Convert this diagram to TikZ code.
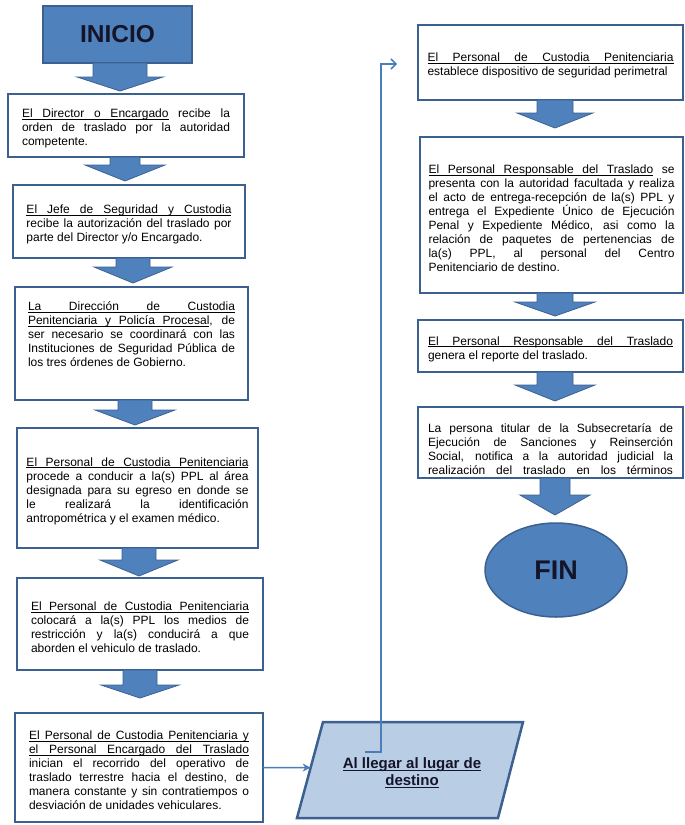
\documentclass[tikz,border=0pt]{standalone}
\usepackage{fontspec}
\setmainfont{Liberation Sans}
\usetikzlibrary{shapes.geometric,arrows.meta,calc}
\definecolor{boxline}{HTML}{3C6190}
\definecolor{fillblue}{HTML}{4F81BD}
\definecolor{lightblue}{HTML}{B9CDE5}
\definecolor{connblue}{HTML}{4A7EBB}
\definecolor{darktext}{HTML}{15152A}
\tolerance=10000 \hbadness=10000 \hyphenpenalty=10000 \exhyphenpenalty=10000
% underlined word and underlined stretchable space
\newcommand{\uw}[1]{\setbox0\hbox{#1}\rlap{\vrule height -0.11em depth 0.185em width \wd0}\box0\relax}
\newcommand{\us}{\leaders\hrule height -0.11em depth 0.185em\hskip\fontdimen2\font plus \fontdimen3\font minus \fontdimen4\font\relax}
\def\ulp#1{\ulpi#1 \ulpstop}
\def\ulpi#1 #2\ulpstop{\uw{#1}\ifx\relax#2\relax\else\us\ulpi#2\ulpstop\fi}
\newcommand{\boxshift}{\par\vspace*{-6pt}}
\newcommand{\dnarrow}[6]{\filldraw[blockarr] ({#1-#5},#2) -- ({#1+#5},#2) -- ({#1+#5},#3) -- ({#1+#6},#3) -- (#1,#4) -- ({#1-#6},#3) -- ({#1-#5},#3) -- cycle;}
\begin{document}
\begin{tikzpicture}[x=1pt,y=-1pt,
  procbox/.style={draw=boxline, line width=2.5pt, fill=white, rectangle, anchor=north west,
    outer sep=0pt, inner xsep=2pt, inner ysep=2pt, align=justify,
    font=\fontsize{12}{14}\selectfont, execute at end node=\boxshift},
  terminal/.style={fill=fillblue, draw=boxline, text=darktext, outer sep=0pt, inner sep=0pt},
  blockarr/.style={fill=fillblue, draw=boxline, line width=0.8pt, line join=miter},
  conn/.style={draw=connblue, line width=1.5pt}]
\useasboundingbox (0,0) rectangle (685,825);

% left column
\node[terminal, rectangle, line width=2.5pt, anchor=north west, minimum width=149pt, minimum height=57pt,
  font=\fontsize{24.5}{28}\selectfont\bfseries] (inicio) at (43,6) {INICIO};

\node[procbox, minimum width=236pt, minimum height=63pt, text width=208pt] (b1) at (8,94)
 {\ulp{El Director o Encargado} recibe la\linebreak
  orden de traslado por la autoridad\linebreak
  competente.};

\node[procbox, minimum width=232pt, minimum height=73pt, text width=205pt] (b2) at (13,185)
 {\ulp{El Jefe de Seguridad y Custodia}\linebreak
  recibe la autorización del traslado por\linebreak
  parte del Director y/o Encargado.};

\node[procbox, minimum width=233pt, minimum height=113pt, text width=207pt] (b3) at (15,287)
 {\ulp{La Dirección de Custodia}\linebreak
  \ulp{Penitenciaria y Policía Procesal}, de\linebreak
  ser necesario se coordinará con las\linebreak
  Instituciones de Seguridad Pública de\linebreak
  los tres órdenes de Gobierno.\par\vspace*{24pt}};

\node[procbox, minimum width=241pt, minimum height=120pt, text width=222pt] (b4) at (17,428)
 {\ulp{El Personal de Custodia Penitenciaria}\linebreak
  procede a conducir a la(s) PPL al área\linebreak
  designada para su egreso en donde se\linebreak
  le realizará la identificación\linebreak
  antropométrica y el examen médico.};

\node[procbox, minimum width=246pt, minimum height=92pt, text width=218pt] (b5) at (17,578)
 {\ulp{El Personal de Custodia Penitenciaria}\linebreak
  colocará a la(s) PPL los medios de\linebreak
  restricción y la(s) conducirá a que\linebreak
  aborden el vehiculo de traslado.};

\node[procbox, minimum width=248pt, minimum height=109pt, text width=220pt] (b6) at (15,713)
 {\ulp{El Personal de Custodia Penitenciaria y}\linebreak
  \ulp{el Personal Encargado del Traslado}\linebreak
  inician el recorrido del operativo de\linebreak
  traslado terrestre hacia el destino, de\linebreak
  manera constante y sin contratiempos o\linebreak
  desviación de unidades vehiculares.};

% right column
\node[procbox, minimum width=265pt, minimum height=75pt, text width=246pt] (r1) at (418,25)
 {\ulp{El Personal de Custodia Penitenciaria}\linebreak
  establece dispositivo de seguridad perimetral};

\node[procbox, minimum width=263pt, minimum height=156pt, text width=246pt] (r2) at (420,137)
 {\ulp{El Personal Responsable del Traslado} se\linebreak
  presenta con la autoridad facultada y realiza\linebreak
  el acto de entrega-recepción de la(s) PPL y\linebreak
  entrega el Expediente Único de Ejecución\linebreak
  Penal y Expediente Médico, asi como la\linebreak
  relación de paquetes de pertenencias de\linebreak
  la(s) PPL, al personal del Centro\linebreak
  Penitenciario de destino.};

\node[procbox, minimum width=265pt, minimum height=52pt, text width=245pt] (r3) at (418,320)
 {\ulp{El Personal Responsable del Traslado}\linebreak
  genera el reporte del traslado.};

\node[procbox, minimum width=265pt, minimum height=71pt, text width=245pt] (r4) at (418,407)
 {La persona titular de la Subsecretaría de\linebreak
  Ejecución de Sanciones y Reinserción\linebreak
  Social, notifica a la autoridad judicial la\linebreak
  \hbox to\hsize{realización\hfill del\hfill traslado\hfill en\hfill los\hfill términos}\par\vspace*{-7pt}};

\node[terminal, ellipse, line width=1.5pt, minimum width=142pt, minimum height=94pt,
  font=\fontsize{27}{30}\selectfont\bfseries] (fin) at (556,570) {FIN};

% destination parallelogram
\coordinate (pTL) at (323,722);
\coordinate (pTR) at (523,722);
\coordinate (pBR) at (498,818);
\coordinate (pBL) at (297,818);
\filldraw[fill=lightblue, draw=boxline, line width=2.5pt, line join=miter] (pTL) -- (pTR) -- (pBR) -- (pBL) -- cycle;
\node[align=center, text=darktext, inner sep=0pt, font=\fontsize{15}{17}\selectfont\bfseries] (dest) at (412,773)
 {\ulp{Al llegar al lugar de}\\ \ulp{destino}};
\coordinate (destin) at ($(pTL)!0.475!(pBL)$);

% block arrows
\dnarrow{120}{63}{77}{91}{27}{43}
\dnarrow{125}{157}{165}{181}{15}{40}
\dnarrow{133}{258}{267}{283}{17}{39}
\dnarrow{135}{400}{410}{425}{17}{40}
\dnarrow{139}{548}{560}{576}{17}{39}
\dnarrow{140}{670}{685}{698}{17}{39}
\dnarrow{555}{100}{113}{128}{18}{38}
\dnarrow{555}{293}{302}{316}{18}{40}
\dnarrow{555}{372}{385}{401}{18}{40}
\dnarrow{555}{478}{495}{515}{15}{35}

% connectors
\draw[conn, -{Stealth[length=8pt,width=8pt]}] (b6.east) -- (destin);
\coordinate (cs) at (365,752);
\coordinate (ce) at (397,64);
\draw[conn, -{Straight Barb[length=5pt,width=10pt]}] (cs) -- ++(16,0) |- (ce);
\end{tikzpicture}
\end{document}
